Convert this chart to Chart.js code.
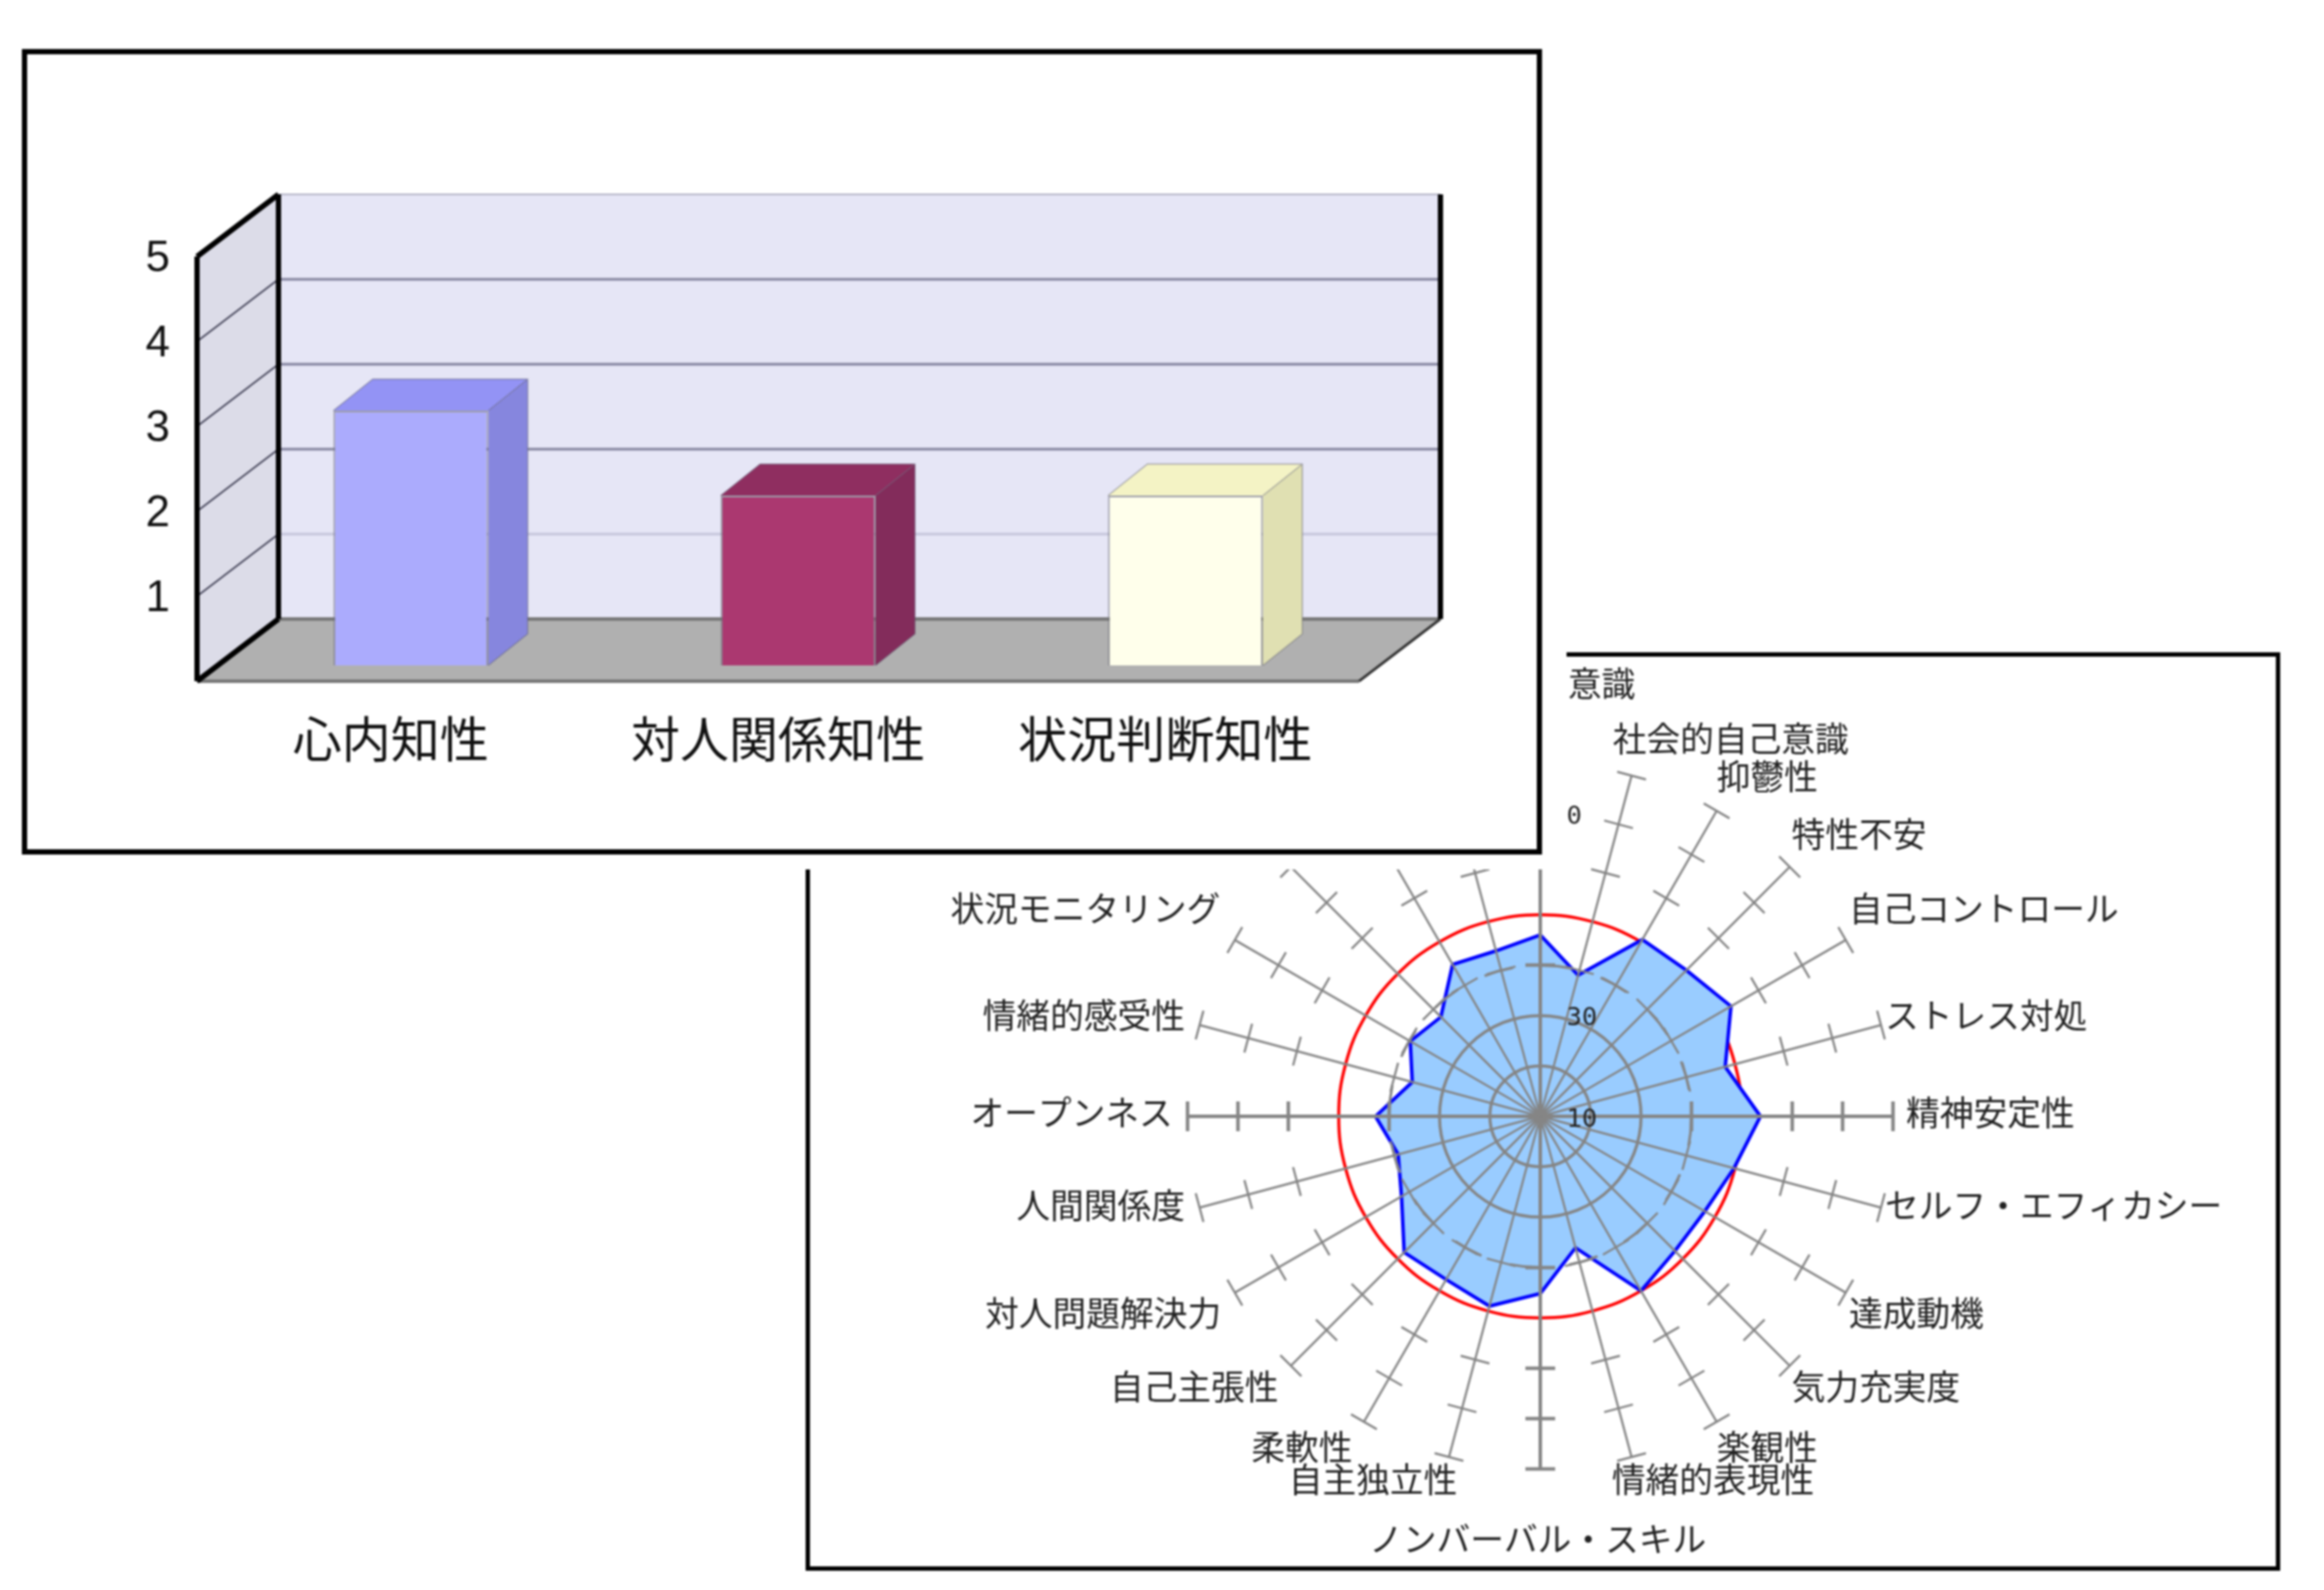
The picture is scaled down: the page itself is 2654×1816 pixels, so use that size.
<!DOCTYPE html>
<html lang="ja">
<head>
<meta charset="utf-8">
<title>Chart</title>
<script src="https://cdn.jsdelivr.net/npm/chart.js@4/dist/chart.umd.min.js"></script>
<style>
html,body{margin:0;padding:0;background:#fff;width:2654px;height:1816px;overflow:hidden}
#root{position:absolute;left:0;top:0;width:2654px;height:1816px;filter:blur(0.8px)}
#radarBox{position:absolute;left:920px;top:745px;width:1674px;height:1039px;border:5px solid #000;background:#fff}
#radarWrap{position:absolute}
#mask{position:absolute;left:0;top:0;width:1789px;height:993px;background:#fff}
#barCard{position:absolute;left:25px;top:56px;width:1724px;height:908px;border:6px solid #000;background:#fff}
#barWrap{position:absolute;left:0;top:0;width:2654px;height:1816px}
canvas{display:block}
</style>
</head>
<body>
<div id="root">
  <div id="radarBox"></div>
  <div id="radarWrap"><canvas id="radar"></canvas></div>
  <div id="mask"></div>
  <div id="barCard"></div>
  <div id="barWrap"><canvas id="bar" width="2654" height="1816"></canvas></div>
</div>
<script>
// ---- bar chart data ----
const barCategories = ['心内知性', '対人関係知性', '状況判断知性'];
const barValues = [3, 2, 2];
const barTicks = [1, 2, 3, 4, 5];
const barFront = ['#ABABFD', '#AB3870', '#FFFFEB'];
const barSide = ['#8686DE', '#832C5B', '#E0E0B2'];
const barTop = ['#9393F5', '#8F2E60', '#F4F3C5'];

// ---- radar chart data ----
const radarCategories = [
  '\u3000\u3000\u3000\u3000意識', '社会的自己意識', '抑鬱性', '特性不安', '自己コントロール', 'ストレス対処',
  '精神安定性', 'セルフ・エフィカシー', '達成動機', '気力充実度', '楽観性', '情緒的表現性',
  'ノンバーバル・スキル', '自主独立性', '柔軟性', '自己主張性', '対人問題解決力', '人間関係度',
  'オープンネス', '情緒的感受性', '状況モニタリング', '', '', ''
];
const radarScore = [46, 39, 50.5, 51, 53.7, 48, 53.7, 49.8, 47.7, 47.8, 50, 37,
                    45.2, 49, 47.4, 48.2, 41.8, 39.2, 42.7, 36.3, 39.8, 37.9, 44.8, 44];
const radarAverage = [50, 50, 50, 50, 50, 50, 50, 50, 50, 50, 50, 50,
                      50, 50, 50, 50, 50, 50, 50, 50, 50, 50, 50, 50];
const radarHub = [10];
const radarScaleValues = [10, 30, 70];
const radarScaleTexts = ['10', '30', '0'];
const radarTickValues = [40, 60, 70, 80];

// ---- fine placement of the radar's category labels (style, not data) ----
const labelNudgeX = [-7, -24, -5, -5, -5, -5, 5, -5, -5, -5, -5, -25, -3, 12, -8, -7, -7, -7, -7, -7, -8, 0, 0, 0];
const labelNudgeY = [3, -10, -8, -8, -8, 14, -5, -29, -5, -7, -3, -7, -2, -7, -3, -7, -5, -29, -5, 14, -8, 0, 0, 0];

Chart.defaults.animation = false;

// ---- 3D box and bar faces, derived from the chart's own scales ----
const FRONT = {x: -23, y: 18};
const BACK = {x: 70, y: -53};
const BAR_DEPTH = {x: 45, y: -36};
function poly(ctx, pts, fill) {
  ctx.beginPath();
  pts.forEach((p, i) => i ? ctx.lineTo(p[0], p[1]) : ctx.moveTo(p[0], p[1]));
  ctx.closePath();
  ctx.fillStyle = fill;
  ctx.fill();
}
function seg(ctx, a, b, color, w) {
  ctx.beginPath();
  ctx.moveTo(a[0], a[1]);
  ctx.lineTo(b[0], b[1]);
  ctx.strokeStyle = color;
  ctx.lineWidth = w;
  ctx.stroke();
}
const box3d = {
  id: 'box3d',
  beforeDatasetsDraw(chart) {
    const {ctx, chartArea: a, scales: {y}} = chart;
    const y0 = y.getPixelForValue(0), yMax = y.getPixelForValue(5);
    const F = (x, v) => [x + FRONT.x, v + FRONT.y];
    const B = (x, v) => [x + BACK.x, v + BACK.y];
    ctx.save();
    poly(ctx, [B(a.left, yMax), B(a.right, yMax), B(a.right, y0), B(a.left, y0)], '#E6E6F6');
    poly(ctx, [F(a.left, y0), F(a.left, yMax), B(a.left, yMax), B(a.left, y0)], '#DCDCE8');
    poly(ctx, [F(a.left, y0), F(a.right, y0), B(a.right, y0), B(a.left, y0)], '#B0B0B0');
    barTicks.forEach(v => {
      const py = y.getPixelForValue(v);
      const col = v === 1 ? '#C6C6DC' : (v === 5 ? '#B8B8C8' : '#85859F');
      seg(ctx, B(a.left, py), B(a.right, py), col, v === 5 ? 2 : 3);
      if (v < 5) seg(ctx, F(a.left, py), B(a.left, py), '#45455A', 2);
    });
    seg(ctx, F(a.left, y0), F(a.right, y0), '#777', 4);
    seg(ctx, B(a.left, y0), B(a.right, y0), '#777', 4);
    seg(ctx, F(a.right, y0), B(a.right, y0), '#333', 3);
    seg(ctx, B(a.right, y0), B(a.right, yMax), '#000', 6);
    seg(ctx, F(a.left, y0), F(a.left, yMax), '#000', 6);
    seg(ctx, F(a.left, yMax), B(a.left, yMax), '#000', 6);
    seg(ctx, B(a.left, y0), B(a.left, yMax), '#000', 6);
    seg(ctx, F(a.left, y0), B(a.left, y0), '#000', 6);
    ctx.restore();
  },
  afterDatasetsDraw(chart) {
    const {ctx} = chart;
    ctx.save();
    chart.getDatasetMeta(0).data.forEach((el, i) => {
      const l = el.x - el.width / 2, r = el.x + el.width / 2, t = el.y, b = el.base;
      const dx = BAR_DEPTH.x, dy = BAR_DEPTH.y;
      poly(ctx, [[r, t], [r + dx, t + dy], [r + dx, b + dy], [r, b]], barSide[i]);
      poly(ctx, [[l, t], [l + dx, t + dy], [r + dx, t + dy], [r, t]], barTop[i]);
      ctx.strokeStyle = 'rgba(90,90,110,.45)';
      ctx.lineWidth = 1.5;
      ctx.beginPath();
      ctx.moveTo(r, b); ctx.lineTo(r + dx, b + dy); ctx.lineTo(r + dx, t + dy);
      ctx.lineTo(l + dx, t + dy); ctx.lineTo(l, t);
      ctx.moveTo(r, t); ctx.lineTo(r + dx, t + dy);
      ctx.stroke();
    });
    ctx.restore();
  }
};

new Chart(document.getElementById('bar'), {
  type: 'bar',
  data: {
    labels: barCategories,
    datasets: [{
      data: barValues,
      backgroundColor: barFront,
      borderColor: 'rgba(110,110,120,.6)',
      borderWidth: 2,
      barPercentage: 0.4,
      categoryPercentage: 1
    }]
  },
  plugins: [box3d],
  options: {
    responsive: false,
    devicePixelRatio: 1,
    layout: {padding: {left: 158, right: 1079, top: 275, bottom: 896}},
    plugins: {legend: {display: false}, tooltip: {enabled: false}},
    scales: {
      x: {
        afterFit: s => { s.height = 160; },
        grid: {display: false, drawTicks: false},
        border: {display: false},
        ticks: {
          padding: 50,
          labelOffset: -23,
          maxRotation: 0,
          color: '#111',
          font: {family: '"Noto Sans CJK JP"', size: 56, weight: 400}
        }
      },
      y: {
        min: 0,
        max: 5,
        afterFit: s => { s.width = 90; },
        grid: {display: false, drawTicks: false},
        border: {display: false},
        ticks: {
          stepSize: 1,
          padding: 54,
          labelOffset: 21,
          color: '#111',
          font: {family: '"Liberation Sans"', size: 50},
          callback: v => barTicks.includes(v) ? String(v) : ''
        }
      }
    }
  }
});

// ---- radar ----
const GRAY = '#858585';
const radarMarks = {
  id: 'radarMarks',
  afterLayout(chart) {
    (chart.scales.r._pointLabelItems || []).forEach((item, i) => {
      item.x += labelNudgeX[i];
      item.y += labelNudgeY[i];
    });
  },
  afterDatasetsDraw(chart) {
    const {ctx, scales: {r}} = chart;
    ctx.save();
    radarCategories.forEach((_, i) => {
      radarTickValues.forEach(v => {
        const p = r.getPointPositionForValue(i, v);
        const a = p.angle;
        const nx = -Math.sin(a) * 17, ny = Math.cos(a) * 17;
        seg(ctx, [p.x - nx, p.y - ny], [p.x + nx, p.y + ny], GRAY, i % 6 === 0 ? 4 : 2.5);
      });
    });
    ctx.restore();
  },
  afterDraw(chart) {
    const {ctx, scales: {r}} = chart;
    ctx.save();
    ctx.fillStyle = '#222';
    ctx.font = '29px "DejaVu Sans Mono"';
    ctx.textAlign = 'left';
    ctx.textBaseline = 'middle';
    radarScaleTexts.forEach((t, i) => {
      const p = r.getPointPositionForValue(0, radarScaleValues[i]);
      ctx.fillText(t, p.x + 30, p.y + 4);
    });
    ctx.restore();
  }
};

const wrap = document.getElementById('radarWrap');
const RADAR_W = 2000;
let radarH = 1250;
const rc = document.getElementById('radar');
rc.width = RADAR_W; rc.height = radarH;
const radar = new Chart(rc, {
  type: 'radar',
  data: {
    labels: radarCategories,
    datasets: [
      {data: radarHub, pointRadius: 17, pointBackgroundColor: GRAY, pointBorderWidth: 0, showLine: false, order: 3},
      {data: radarAverage, borderColor: '#FF0000', borderWidth: 3.5, fill: false, pointRadius: 0, tension: 0.4, order: 2},
      {data: radarScore, borderColor: '#0000FF', borderWidth: 4, backgroundColor: '#99CCFF', fill: true, pointRadius: 0, order: 1}
    ]
  },
  plugins: [radarMarks],
  options: {
    responsive: false,
    maintainAspectRatio: false,
    devicePixelRatio: 1,
    plugins: {legend: {display: false}, tooltip: {enabled: false}},
    elements: {line: {tension: 0}},
    scales: {
      r: {
        min: 10,
        max: 80,
        ticks: {display: false, stepSize: 10},
        grid: {
          z: 1,
          circular: true,
          lineWidth: c => c.tick.value === 40 ? 3 : 3.5,
          color: c => c.tick.value <= 40 ? GRAY : 'transparent'
        },
        border: {dash: c => c.tick.value === 40 ? [34, 34] : []},
        angleLines: {
          color: GRAY,
          lineWidth: c => c.index % 6 === 0 ? 4 : 2.5
        },
        pointLabels: {
          color: '#222',
          padding: c => c.index === 0 ? 72 : (c.index === 12 ? 58 : 10),
          font: {family: '"Noto Sans CJK JP"', size: 38.5}
        }
      }
    }
  }
});
const TARGET_R = 402, TARGET_X = 1759, TARGET_Y = 1275;
for (let k = 0; k < 5; k++) {
  radarH += 2 * (TARGET_R - radar.scales.r.drawingArea);
  radar.resize(RADAR_W, radarH);
}
wrap.style.left = (TARGET_X - radar.scales.r.xCenter) + 'px';
wrap.style.top = (TARGET_Y - radar.scales.r.yCenter) + 'px';
</script>
</body>
</html>
